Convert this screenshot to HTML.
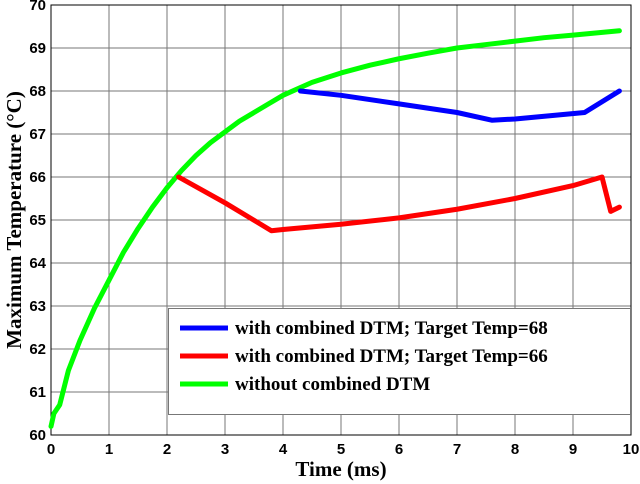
<!DOCTYPE html>
<html><head><meta charset="utf-8"><style>
body{margin:0;background:#fff}
svg{display:block}
.tk{font-family:"Liberation Sans",sans-serif;font-weight:bold;font-size:15px;fill:#000}
.tt{font-family:"Liberation Serif",serif;font-weight:bold;font-size:21px;fill:#000}
.lg{font-family:"Liberation Serif",serif;font-weight:bold;font-size:19px;fill:#000}
</style></head><body>
<svg id="c" width="640" height="484"></svg>
<script>
const xTicks=[0,1,2,3,4,5,6,7,8,9,10];
const yTicks=[60,61,62,63,64,65,66,67,68,69,70];
const greenX=[0,0.05,0.15,0.3,0.5,0.75,1,1.25,1.5,1.75,2,2.25,2.5,2.75,3,3.25,3.5,3.75,4,4.5,5,5.5,6,6.5,7,7.5,8,8.5,9,9.8];
const greenY=[60.2,60.5,60.7,61.5,62.2,62.95,63.6,64.25,64.8,65.3,65.75,66.15,66.5,66.8,67.05,67.3,67.5,67.7,67.9,68.2,68.42,68.6,68.75,68.88,69.0,69.08,69.16,69.24,69.3,69.4];
const blueX=[4.3,5,6,7,7.6,8,9.2,9.8];
const blueY=[68.0,67.9,67.7,67.5,67.32,67.35,67.5,68.0];
const redX=[2.2,3,3.8,4,5,6,7,8,9,9.5,9.65,9.8];
const redY=[66.0,65.4,64.75,64.78,64.9,65.05,65.25,65.5,65.8,66.0,65.2,65.3];
const legendLabels=["with combined DTM; Target Temp=68","with combined DTM; Target Temp=66","without combined DTM"];
const NS="http://www.w3.org/2000/svg";
const svg=document.getElementById('c');
const X0=51,X1=631,Y0=435,Y1=5;
const sx=v=>X0+(v-0)/10*(X1-X0);
const sy=v=>Y0-(v-60)/10*(Y0-Y1);
function mk(t,a,p){const e=document.createElementNS(NS,t);for(const k in a)e.setAttribute(k,a[k]);(p||svg).appendChild(e);return e;}
xTicks.forEach(v=>{
 const g=mk('line',{x1:sx(v),x2:sx(v),y1:Y0,y2:Y1,stroke:'#777','stroke-width':1});
 
 
 const t=mk('text',{x:sx(v),y:Y0+19,'text-anchor':'middle',class:'tk'});t.textContent=v;
 
 
});
yTicks.forEach(v=>{
 const g=mk('line',{x1:X0,x2:X1,y1:sy(v),y2:sy(v),stroke:'#777','stroke-width':1});
 
 
 const t=mk('text',{x:X0-5,y:sy(v)+5,'text-anchor':'end',class:'tk'});t.textContent=v;
 
 
});
const fr=mk('rect',{x:X0,y:Y1,width:X1-X0,height:Y0-Y1,fill:'none',stroke:'#000','stroke-width':1});


function series(xs,ys,col,name){
 const p=mk('polyline',{points:xs.map((x,i)=>sx(x)+','+sy(ys[i])).join(' '),fill:'none',stroke:col,'stroke-width':5,'stroke-linejoin':'round','stroke-linecap':'round'});
 
 
}
series(greenX,greenY,'#00ff00','series-without-dtm');
series(redX,redY,'#ff0000','series-target-66');
series(blueX,blueY,'#0000ff','series-target-68');
const lb=mk('rect',{x:168.5,y:308.5,width:462,height:106,fill:'#fff',stroke:'#777','stroke-width':1});


const cols=['#0000ff','#ff0000','#00ff00'];
legendLabels.forEach((s,i)=>{
 const y=328+i*28;
 const l=mk('line',{x1:180,x2:228,y1:y,y2:y,stroke:cols[i],'stroke-width':5});
 
 
 const t=mk('text',{x:235,y:y+6,class:'lg'});t.textContent=s;
 
 
});
const xt=mk('text',{x:341,y:476,'text-anchor':'middle',class:'tt'});xt.textContent='Time (ms)';


const yt=mk('text',{x:0,y:0,'text-anchor':'middle',class:'tt',transform:'translate(21,220) rotate(-90)'});
yt.textContent='Maximum Temperature (°C)';


</script>
</body></html>
